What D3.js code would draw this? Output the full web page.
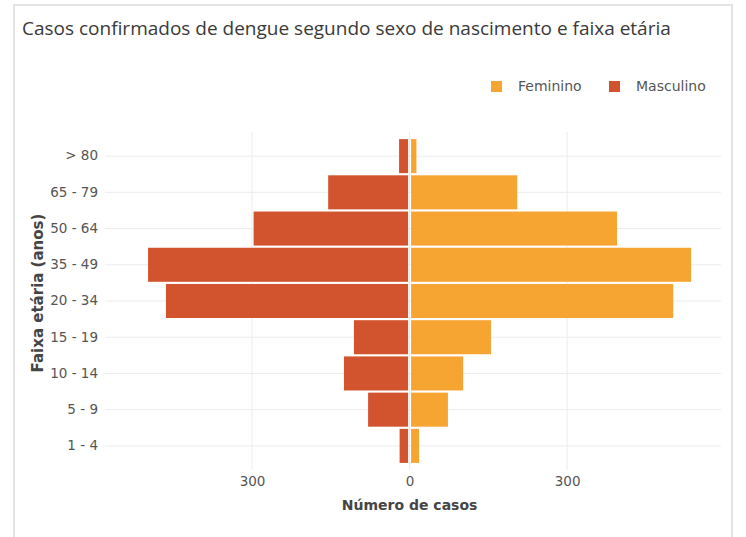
<!DOCTYPE html>
<html><head><meta charset="utf-8">
<script src="https://cdn.jsdelivr.net/npm/d3@7"></script>
<style>body{margin:0;background:#fff;} svg{display:block;}</style>
</head><body>
<svg id="c" width="746" height="537"></svg>
<script>
const ageGroups = ["> 80","65 - 79","50 - 64","35 - 49","20 - 34","15 - 19","10 - 14","5 - 9","1 - 4"];
const masculino = [20,155,297,498,464,106,125,79,19];
const feminino  = [13,205,395,536,502,155,102,73,18];
const xTicks = [-300,0,300];
const seriesNames = ["Feminino","Masculino"];
const colors = {Feminino:"#F6A532", Masculino:"#D2542F"};

const svg = d3.select("#c");
const font = "'Open Sans', 'Noto Sans', sans-serif";
const font2 = "'DejaVu Sans', sans-serif";

// frame
svg.append("rect").attr("x",14).attr("y",5).attr("width",718).attr("height",540)
  .attr("fill","none").attr("stroke","#e4e4e4").attr("stroke-width",2);

svg.append("text").attr("x",22).attr("y",35).text("Casos confirmados de dengue segundo sexo de nascimento e faixa etária")
  .attr("font-family",font).attr("font-size",19).attr("fill","#3a3a3a");

const x = d3.scaleLinear().domain([-580,593]).range([105,721]);
const y = d3.scaleBand().domain(ageGroups).range([138,464]).paddingInner(0.06).paddingOuter(0.03);

const g = svg.append("g");
// horizontal grid
g.selectAll("line.hg").data(ageGroups).join("line")
  .attr("x1",105).attr("x2",721)
  .attr("y1",d=>y(d)+y.bandwidth()/2).attr("y2",d=>y(d)+y.bandwidth()/2)
  .attr("stroke","#ececec").attr("stroke-width",1);
// vertical grid
g.selectAll("line.vg").data(xTicks).join("line")
  .attr("x1",d=>x(d)).attr("x2",d=>x(d)).attr("y1",132).attr("y2",470)
  .attr("stroke","#ececec").attr("stroke-width",1);

// bars
g.selectAll("rect.m").data(ageGroups).join("rect")
  .attr("x",(d,i)=>x(-masculino[i])).attr("width",(d,i)=>x(0)-x(-masculino[i])-1.5)
  .attr("y",d=>y(d)).attr("height",y.bandwidth()).attr("fill",colors.Masculino);
g.selectAll("rect.f").data(ageGroups).join("rect")
  .attr("x",x(0)+1.5).attr("width",(d,i)=>x(feminino[i])-x(0)-1.5)
  .attr("y",d=>y(d)).attr("height",y.bandwidth()).attr("fill",colors.Feminino);

// y axis labels
const yAxis = d3.axisLeft(y).tickSize(0).tickPadding(0);
const ya = svg.append("g").attr("transform","translate(98,0)").call(yAxis);
ya.select(".domain").remove();
ya.selectAll("text").attr("font-family",font2).attr("font-size",13.5).attr("fill","#555");

// x axis labels
const xAxis = d3.axisBottom(x).tickValues(xTicks).tickFormat(d=>Math.abs(d)).tickSize(0).tickPadding(0);
const xa = svg.append("g").attr("transform","translate(0,476)").call(xAxis);
xa.select(".domain").remove();
xa.selectAll("text").attr("font-family",font2).attr("font-size",13.5).attr("fill","#555");

// axis titles
svg.append("text").attr("x",x(0)).attr("y",510).attr("text-anchor","middle")
  .text("Número de casos").attr("font-family",font2).attr("font-size",14).attr("font-weight",700).attr("fill","#454545");
svg.append("text").attr("transform","translate(43,293) rotate(-90)").attr("text-anchor","middle")
  .text("Faixa etária (anos)").attr("font-family",font2).attr("font-size",15).attr("font-weight",700).attr("fill","#454545");

// legend
const legX = [491, 609];
const lg = svg.append("g");
seriesNames.forEach((s,i)=>{
  lg.append("rect").attr("x",legX[i]).attr("y",81).attr("width",11).attr("height",11).attr("fill",colors[s]);
  lg.append("text").attr("x",legX[i]+27).attr("y",91).text(s)
    .attr("font-family",font2).attr("font-size",14).attr("fill","#555");
});
</script>
</body></html>
